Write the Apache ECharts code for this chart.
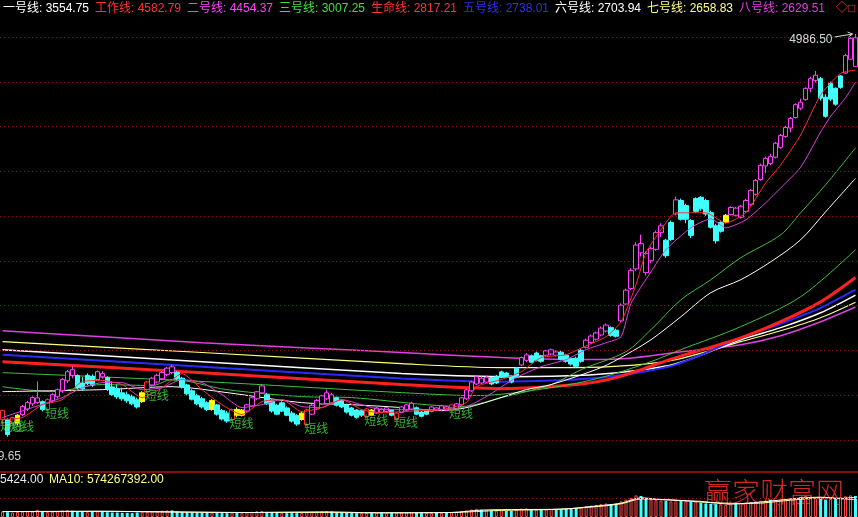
<!DOCTYPE html>
<html><head><meta charset="utf-8">
<script src="https://cdn.jsdelivr.net/npm/echarts/dist/echarts.min.js"></script>
<style>html,body{margin:0;padding:0;background:#000;overflow:hidden}#c{width:858px;height:517px}</style>
</head><body><div id="c"></div>
<script>
// ---- data: [open, close, low, high] ----
const ohlc = [
[2019,2062,1996,2067],[2019,1950,1940,2025],[2001,2029,1996,2033],[2000,2040,1992,2046],[2043,2082,2035,2090],
[2070,2101,2060,2110],[2095,2126,2085,2132],[2101,2125,2095,2208],[2106,2067,2058,2112],[2067,2116,2060,2122],
[2110,2141,2100,2148],[2130,2166,2122,2172],[2160,2218,2150,2225],[2212,2259,2200,2268],[2270,2240,2225,2290],
[2239,2176,2168,2245],[2200,2170,2160,2230],[2197,2240,2190,2250],[2235,2190,2180,2245],[2218,2259,2212,2265],
[2250,2232,2222,2262],[2228,2166,2160,2235],[2180,2141,2135,2208],[2170,2130,2120,2192],[2150,2120,2110,2176],
[2140,2110,2100,2156],[2130,2095,2088,2141],[2115,2080,2072,2126],[2106,2150,2100,2158],[2156,2205,2150,2212],
[2190,2225,2182,2232],[2205,2240,2198,2248],[2222,2255,2214,2262],[2245,2278,2236,2284],[2285,2255,2245,2298],
[2255,2222,2214,2262],[2225,2180,2172,2232],[2190,2145,2138,2196],[2160,2118,2112,2168],[2135,2095,2088,2145],
[2120,2080,2072,2130],[2100,2068,2060,2108],[2068,2112,2062,2118],[2090,2045,2038,2095],[2062,2022,2015,2070],
[2050,2012,2004,2060],[2019,2067,2012,2072],[2068,2040,2030,2078],[2040,2065,2034,2070],[2060,2090,2052,2095],
[2085,2125,2080,2130],[2120,2155,2115,2160],[2150,2185,2145,2196],[2140,2095,2090,2150],[2110,2060,2052,2118],
[2088,2045,2040,2095],[2060,2100,2055,2108],[2075,2040,2035,2082],[2050,2012,2005,2060],[2038,1998,1990,2045],
[2020,2050,2014,2056],[1996,2065,1990,2072],[2045,2088,2040,2095],[2070,2112,2065,2120],[2095,2135,2090,2140],
[2120,2150,2115,2166],[2140,2100,2095,2150],[2125,2088,2082,2130],[2112,2080,2074,2118],[2090,2055,2048,2096],
[2075,2040,2034,2080],[2065,2030,2024,2070],[2040,2062,2032,2068],[2033,2070,2028,2075],[2065,2040,2035,2070],
[2050,2075,2045,2080],[2070,2055,2050,2076],[2058,2076,2054,2080],[2066,2040,2035,2070],[2020,2050,2015,2055],
[2054,2080,2050,2085],[2064,2090,2060,2095],[2070,2098,2065,2106],[2076,2045,2040,2082],[2055,2035,2030,2060],
[2045,2065,2040,2070],[2058,2080,2054,2085],[2075,2064,2060,2080],[2068,2085,2064,2090],[2080,2064,2060,2086],
[2062,2090,2058,2095],[2068,2095,2064,2100],[2090,2125,2085,2130],[2120,2165,2115,2170],[2160,2205,2155,2212],
[2195,2232,2190,2240],[2225,2200,2195,2235],[2205,2230,2200,2238],[2228,2195,2188,2232],[2200,2235,2195,2242],
[2230,2258,2225,2265],[2252,2230,2225,2258],[2238,2205,2198,2242],[2230,2278,2225,2285],[2295,2335,2288,2340],
[2320,2350,2310,2360],[2345,2310,2304,2352],[2320,2360,2314,2368],[2345,2315,2308,2350],[2348,2372,2342,2378],
[2355,2378,2348,2385],[2366,2348,2342,2375],[2365,2326,2320,2372],[2348,2315,2308,2356],[2330,2300,2292,2338],
[2332,2288,2280,2340],[2315,2375,2308,2385],[2392,2432,2386,2442],[2420,2456,2412,2465],[2438,2474,2430,2482],
[2462,2502,2455,2512],[2485,2520,2478,2530],[2505,2460,2452,2512],[2490,2455,2448,2498],[2545,2640,2535,2652],
[2648,2735,2640,2745],[2745,2865,2735,2880],[2875,3040,2860,3060],[3050,2985,2960,3115],[2980,2850,2830,2995],
[2930,3015,2915,3030],[3010,3130,3000,3145],[3130,3180,3100,3200],[3075,2965,2950,3085],[3080,3205,3070,3220],
[3270,3380,3260,3406],[3375,3230,3220,3390],[3230,3335,3200,3350],[3220,3110,3090,3230],[3290,3390,3280,3400],
[3400,3310,3295,3410],[3375,3270,3255,3388],[3280,3170,3160,3295],[3180,3070,3050,3195],[3140,3205,3130,3215],
[3205,3260,3198,3270],[3265,3320,3258,3330],[3315,3260,3250,3325],[3245,3330,3235,3340],[3290,3375,3280,3388],
[3345,3455,3335,3465],[3425,3538,3415,3550],[3545,3665,3535,3680],[3660,3725,3600,3740],[3740,3680,3665,3765],
[3735,3860,3725,3872],[3822,3930,3812,3945],[3920,4005,3910,4020],[4000,4090,3960,4105],[4100,4225,4090,4240],
[4250,4190,4170,4285],[4275,4390,4265,4400],[4390,4490,4350,4510],[4470,4527,4450,4572],[4490,4290,4265,4510],
[4300,4112,4099,4330],[4280,4440,4260,4460],[4390,4230,4215,4400],[4400,4520,4385,4530],[4550,4740,4540,4760],
[4700,4935,4690,4950],[4943,4620,4617,4986.5]
];
// short-line state of each bar: m=up trend, c=down trend, y=transition, r=signal
const states = "rcry"+"mmmm"+"cr"+"mmmmm"+"cccc"+"mm"+"ccccccc"+"yr"+"mmmmm"+"ccccccc"+"y"+"ccc"+"r"+"yy"+"mmmm"+
  "ccccccc"+"yr"+"mmmmm"+"cccccc"+"ry"+"mmm"+"cr"+"mmm"+"ccc"+"mmmm"+"r"+"mmmmmmm"+"cccccc"+"mm"+"ccc"+"mmm"+
  "ccccc"+"mmmmm"+"cc"+"mmmmmmmmm"+"cc"+"m"+"ccccccccc"+"y"+"mmmmmmmmmmmmmmmmmm"+"ccccc"+"mmm";
// volume (1e8)
const volumes = [
1.8,1.6,1.5,1.7,1.9,2.0,1.8,2.4,1.7,1.6, 1.8,2.0,2.2,2.3,2.1,1.9,1.7,1.6,1.7,1.9,
1.8,1.6,1.5,1.5,1.4,1.4,1.3,1.5,1.6,1.8, 1.9,2.0,2.1,2.2,2.2,1.9,1.7,1.6,1.5,1.5,
1.4,1.4,1.5,1.4,1.3,1.3,1.5,1.4,1.4,1.6, 1.7,1.9,2.0,1.7,1.5,1.4,1.4,1.3,1.3,1.3,
1.4,1.6,1.7,1.8,1.9,2.0,1.8,1.6,1.5,1.4, 1.3,1.3,1.3,1.4,1.3,1.4,1.3,1.3,1.3,1.4,
1.5,1.5,1.6,1.4,1.3,1.3,1.4,1.4,1.4,1.5, 1.6,1.7,1.9,2.2,2.5,2.7,2.4,2.3,2.2,2.1,
2.2,2.0,2.1,2.4,2.8,2.9,2.6,2.5,2.4,2.5, 2.6,2.5,2.6,2.7,2.9,3.0,3.2,3.6,3.8,4.0,
4.3,4.5,4.2,4.4,5.2,5.8,6.3,7.2,7.0,6.2, 5.8,5.6,5.5,5.4,5.2,5.6,5.4,5.2,5.0,5.1,
4.8,4.5,4.4,4.3,4.2,4.1,4.2,4.3,4.6,4.8, 5.0,5.2,5.4,5.5,5.8,5.6,5.8,6.0,6.2,6.4,
6.6,7.0,6.8,6.4,6.2,5.8,6.0,6.2,6.6,6.9, 7.2,7.0
];
const volMa5 = [[0,1.8],[10,1.8],[20,1.9],[30,1.7],[40,1.6],[50,1.5],[55,1.6],[65,1.7],[75,1.4],[90,1.5],[96,2.3],[104,2.5],[112,2.6],[118,3.5],[124,4.6],[128,6.4],[132,5.8],[140,5.2],[146,4.3],[152,5.0],[160,6.3],[164,6.6],[168,6.2],[171,6.6]];
const volMa10 = [[0,1.8],[15,1.9],[30,1.8],[45,1.5],[60,1.5],[75,1.4],[90,1.5],[100,2.2],[110,2.5],[118,3.3],[124,4.4],[128,6.0],[134,5.7],[142,4.8],[150,4.5],[158,5.6],[164,6.4],[171,5.74]];

// indicator lines: [bar index, value]
const lineWork = [[0,2019],[4,2029],[8,2091],[12,2116],[16,2208],[20,2213],[24,2192],[28,2126],[32,2176],[36,2249],[40,2166],[44,2091],[48,2043],[52,2106],[56,2116],[60,2057],[64,2077],[68,2116],[72,2067],[76,2052],[80,2057],[84,2062],[88,2067],[93,2101],[95,2181],[100,2218],[104,2259],[108,2335],[113,2351],[117,2401],[121,2452],[124,2540],[127,2770],[129,2986],[132,3151],[135,3279],[141,3279],[145,3202],[149,3279],[153,3517],[156,3669],[160,3935],[164,4321],[168,4546],[171,4582.79]];
const line2 = [[0,2029],[6,2077],[12,2126],[16,2176],[20,2202],[24,2202],[28,2166],[32,2176],[36,2218],[40,2202],[44,2141],[48,2077],[52,2091],[56,2116],[60,2082],[64,2077],[68,2116],[72,2091],[76,2067],[80,2067],[88,2067],[93,2082],[97,2131],[103,2228],[108,2286],[113,2324],[117,2379],[121,2418],[124,2452],[126,2651],[130,2855],[133,3007],[138,3166],[142,3233],[145,3166],[149,3225],[153,3357],[156,3476],[160,3648],[164,3963],[166,4110],[169,4294],[171,4454.37]];
const lineGreenUp = [[0,2181],[10,2156],[20,2192],[30,2187],[34,2218],[45,2166],[60,2131],[70,2126],[85,2091],[92,2082],[100,2126],[110,2192],[116,2270],[125,2368],[130,2493],[136,2674],[142,2803],[148,2951],[156,3114],[160,3279],[165,3501],[171,3818]];
const line1 = [[0,2156],[20,2166],[34,2181],[45,2151],[60,2101],[70,2091],[80,2077],[88,2062],[94,2082],[105,2166],[110,2192],[120,2281],[125,2351],[130,2435],[136,2570],[142,2719],[148,2803],[154,2923],[160,3078],[165,3286],[171,3554.75]];
const line3 = [[0,2254],[40,2208],[80,2151],[95,2136],[110,2176],[120,2228],[130,2313],[136,2379],[148,2511],[160,2693],[171,3007.25]];
const lineLife = [[0,2313],[40,2254],[80,2192],[100,2171],[115,2192],[123,2228],[135,2335],[148,2446],[156,2540],[164,2661],[171,2817.21]];
const line5 = [[0,2351],[40,2286],[80,2223],[100,2207],[115,2218],[125,2244],[135,2297],[148,2446],[156,2528],[164,2624],[171,2738.01]];
const line6 = [[0,2379],[40,2313],[80,2249],[100,2233],[115,2239],[125,2259],[135,2302],[148,2435],[156,2505],[164,2594],[171,2703.94]];
const line7 = [[0,2424],[40,2363],[80,2302],[100,2281],[115,2281],[125,2291],[135,2324],[148,2424],[156,2487],[164,2564],[171,2658.83]];
const line8 = [[0,2487],[20,2452],[40,2418],[60,2390],[80,2363],[100,2335],[115,2324],[125,2330],[135,2363],[148,2407],[156,2458],[164,2540],[171,2629.51]];

const legendNames = ['一号线','工作线','二号线','三号线','生命线','五号线','六号线','七号线','八号线'];
const legendValues = ['3554.75','4582.79','4454.37','3007.25','2817.21','2738.01','2703.94','2658.83','2629.51'];
const gridLevels = [4951.6,4458.0,4013.6,3613.5,3253.2,2928.9,2636.9,2374.0,2137.3,1924.2];
const volGridLevel = 6.33;
const highText = '4986.50', lowText = '1849.65', lowValue = 1849.65;
const volText = '5424.00', volMaText = 'MA10: 574267392.00';
const watermark = '赢家财富网';
const signalText = '短线';
const categories = ohlc.map((d, i) => 'D' + i);

// ---- styles ----
const FONT = '12px "Liberation Sans", "Noto Sans CJK SC", sans-serif';
const legendColors = ['#ffffff','#ff3232','#ff40ff','#40e040','#ff3232','#3030e8','#ffffff','#ffff80','#e040e0'];
const cMag = '#ff40ff', cCyan = '#40ffff', cYel = '#ffff00', cRed = '#ff3030';
const colorMap = {m:cMag, c:cCyan, y:cYel, r:cRed};

const candleData = ohlc.map((d, i) => {
  const s = states[i] || 'm', col = colorMap[s];
  let st;
  if (s === 'm') st = {color:'#000', color0:col, borderColor:col, borderColor0:col};
  else if (s === 'r') st = {color:'#000', color0:'#000', borderColor:col, borderColor0:col};
  else st = {color:col, color0:col, borderColor:col, borderColor0:col};
  return {value: d, itemStyle: st};
});
const volData = volumes.map((v, i) => {
  const up = ohlc[i][1] >= ohlc[i][0];
  return {value: v, itemStyle: up ? {color:'#000', borderColor:'#ff4a4a', borderWidth:1} : {color:'#40ffff'}};
});
const signals = [];
for (let i = 0; i < ohlc.length; i++) if (states[i] === 'r') signals.push([i, ohlc[i][2]]);

function mkLine(data, color, width, smooth, z) {
  return {type:'line', data, xAxisIndex:0, yAxisIndex:0, symbol:'none', silent:true, smooth: smooth,
    lineStyle:{color, width}, z: z || 2};
}

const chart = echarts.init(document.getElementById('c'), null, {renderer:'canvas'});
chart.setOption({
  animation:false,
  backgroundColor:'#000',
  textStyle:{fontFamily:'"Liberation Sans", "Noto Sans CJK SC", sans-serif'},
  grid:[{left:0,right:0,top:20,bottom:45},{left:0,right:0,top:481,bottom:0}],
  xAxis:[
    {type:'category', data:categories, gridIndex:0, axisLine:{show:true, lineStyle:{color:'#8a1010', width:2}}, axisTick:{show:false}, axisLabel:{show:false}, splitLine:{show:false}},
    {type:'category', data:categories, gridIndex:1, axisLine:{show:false}, axisTick:{show:false}, axisLabel:{show:false}, splitLine:{show:false}}
  ],
  yAxis:[
    {type:'log', logBase:10, gridIndex:0, min:1785.7, max:5152.9, axisLine:{show:false}, axisTick:{show:false}, axisLabel:{show:false}, splitLine:{show:false}},
    {type:'value', gridIndex:1, min:0, max:12, axisLine:{show:false}, axisTick:{show:false}, axisLabel:{show:false}, splitLine:{show:false}}
  ],
  series:[
    {type:'candlestick', data:candleData, xAxisIndex:0, yAxisIndex:0, barWidth:5, z:5,
      itemStyle:{borderWidth:1},
      markLine:{silent:true, symbol:['none','none'], label:{show:false}, animation:false,
        lineStyle:{color:'#8a1414', type:[1,3], width:1},
        data: gridLevels.map(v => ({yAxis:v}))}},
    mkLine(line8, '#e040e0', 1.5, 0.3),
    mkLine(line7, '#ffff80', 1.2, 0.3),
    mkLine(line6, '#ffffff', 1.5, 0.3),
    mkLine(line5, '#2a2aff', 2, 0.3),
    mkLine(lineLife, '#ff2020', 3, 0.3),
    mkLine(line3, '#40c040', 1, 0.3),
    mkLine(lineGreenUp, '#40c040', 1, 0.3),
    mkLine(line1, '#ffffff', 1, 0.3),
    mkLine(line2, '#e040e0', 1, 0.2, 6),
    mkLine(lineWork, '#ff3030', 1, 0.2, 6),
    {type:'scatter', data:signals, xAxisIndex:0, yAxisIndex:0, symbolSize:1, itemStyle:{color:'rgba(0,0,0,0)'}, z:7, silent:true,
      label:{show:true, formatter:signalText, position:[-2,-2], align:'left', verticalAlign:'top', color:'#40e040', fontSize:12}},
    {type:'bar', data:volData, xAxisIndex:1, yAxisIndex:1, barWidth:3, z:2,
      markLine:{silent:true, symbol:['none','none'], label:{show:false}, lineStyle:{color:'#8a1414', type:[1,3], width:1}, data:[{yAxis:volGridLevel}]}},
    {type:'line', data:volMa10, xAxisIndex:1, yAxisIndex:1, symbol:'none', silent:true, smooth:0.3, lineStyle:{color:'#ffff80', width:1}, z:3},
    {type:'line', data:volMa5, xAxisIndex:1, yAxisIndex:1, symbol:'none', silent:true, smooth:0.3, lineStyle:{color:'#ffffff', width:1}, z:3}
  ]
});

// ---- annotations ----
const g = [];
legendNames.forEach((n, k) => {
  g.push({type:'text', x:3 + 92 * k, y:9, silent:true, z:20,
    style:{text: n + ': ' + legendValues[k], fill: legendColors[k], font: FONT, textVerticalAlign:'middle'}});
});
g.push({type:'text', x:836, y:9, silent:true, z:20, style:{text:'◇□', fill:'#ff3030', font:FONT, textVerticalAlign:'middle'}});

let peakIdx = 0;
ohlc.forEach((d, i) => { if (d[3] > ohlc[peakIdx][3]) peakIdx = i; });
const pk = chart.convertToPixel({xAxisIndex:0, yAxisIndex:0}, [peakIdx, ohlc[peakIdx][3]]);
g.push({type:'text', x:pk[0] - 23, y:pk[1] + 6, silent:true, z:20,
  style:{text:highText, fill:'#d8d8d8', font:FONT, textAlign:'right', textVerticalAlign:'middle'}});
g.push({type:'line', silent:true, z:20, shape:{x1:pk[0] - 21, y1:pk[1] + 3, x2:pk[0] - 3, y2:pk[1]}, style:{stroke:'#d8d8d8', lineWidth:1}});
g.push({type:'polyline', silent:true, z:20, shape:{points:[[pk[0] - 8, pk[1] - 2],[pk[0] - 3, pk[1]],[pk[0] - 7, pk[1] + 3]]}, style:{stroke:'#d8d8d8', fill:null, lineWidth:1}});

const lowPx = chart.convertToPixel({xAxisIndex:0, yAxisIndex:0}, [0, lowValue]);
g.push({type:'text', x:21, y:lowPx[1], silent:true, z:20,
  style:{text:lowText, fill:'#d0d0d0', font:FONT, textAlign:'right', textVerticalAlign:'middle'}});

g.push({type:'text', x:0, y:480, silent:true, z:20, style:{text:volText, fill:'#e8e8e8', font:FONT, textVerticalAlign:'middle'}});
g.push({type:'text', x:49, y:480, silent:true, z:20, style:{text:volMaText, fill:'#ffff80', font:FONT, textVerticalAlign:'middle'}});
g.push({type:'text', x:704, y:492, silent:true, z:1,
  style:{text:watermark, fill:'#d02828', font:'300 28px "Noto Sans CJK SC", sans-serif', textVerticalAlign:'middle'}});

chart.setOption({graphic: g});
</script>
</body></html>
